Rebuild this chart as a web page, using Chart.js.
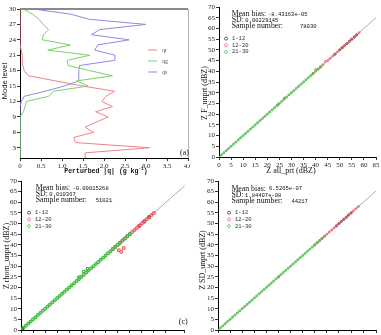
<!DOCTYPE html>
<html>
<head>
<meta charset="utf-8">
<script src="https://cdn.jsdelivr.net/npm/chart.js@4.4.1/dist/chart.umd.min.js"></script>
<style>
html, body { margin: 0; padding: 0; background: #fff; overflow: hidden; width: 381px; height: 335px; }
canvas { position: absolute; }
</style>
</head>
<body>
<canvas id="pa" width="190" height="175" style="left:0;top:0"></canvas>
<canvas id="pb" width="191" height="175" style="left:190px;top:0"></canvas>
<canvas id="pc" width="190" height="180" style="left:0;top:165px"></canvas>
<canvas id="pd" width="191" height="180" style="left:190px;top:165px"></canvas>
<script>
// ---- panel (a): perturbation profiles by model level ----
const levels = [1, 2, 3, 4, 5, 6, 7, 8, 9, 10, 11, 12, 13, 14, 15, 16, 17, 18, 19, 20, 21, 22, 23, 24, 25, 26, 27, 28, 29, 30];
const qr = [1.57, 1.55, 3.08, 1.32, 1.28, 1.75, 1.55, 1.82, 2.1, 1.8, 2.2, 1.95, 2.05, 2.25, 1.5, 0.85, 0.2, 0.1, 0.07, 0.06, 0.05, 0.03, 0, 0, 0, 0, 0, 0, 0, 0];
const qg = [0, 0, 0, 0, 0, 0, 0, 0, 0.02, 0.08, 0.12, 0.15, 0.68, 0.8, 1.62, 1.35, 2.2, 1.66, 1.15, 1.12, 1.66, 0.66, 1.2, 0.53, 0.56, 0.68, 0.55, 0.45, 0.3, 0.08];
const qs = [0, 0, 0, 0, 0, 0, 0, 0, 0, 0, 0, 0.03, 0.1, 0.6, 1.05, 1.4, 1.4, 1.4, 1.42, 2.25, 2.26, 1.78, 1.85, 2.6, 1.7, 1.9, 3.0, 1.65, 1.2, 0.32];
const profileNames = ['qr', 'qg', 'qs'];
const levelTicks = [3, 6, 9, 12, 15, 18, 21, 24, 27, 30];

// ---- panels (b)-(d): unperturbed vs all-perturbed reflectivity ----
const groupNames = ['1-12', '12-20', '21-30'];
const oneToOne = [[0, 0], [70, 70]];

const bLev1_12 = [[48, 48], [50, 50], [51, 51], [52, 52], [53, 53], [54, 54], [55, 55], [56, 56], [57, 57]];
const bLev12_20 = [[39, 39], [40, 40.8], [41, 41], [42, 42], [43, 43], [44, 44.5], [45, 45], [46, 46], [47, 47], [48, 48], [49, 49], [50, 50], [51, 51], [52, 52], [53, 53], [54, 54], [55, 55], [56, 56], [57, 57], [58, 58], [24.5, 24.5], [27, 27]];
const bLev21_30 = [[0, 0], [1, 1], [2, 2], [3, 3], [4, 4], [5, 5], [6, 6], [7, 7], [8, 8], [9, 9], [10, 10], [11, 11], [12, 12], [13, 13], [14, 14], [15, 15], [16, 16], [17, 17], [18, 18], [19, 19], [20, 20], [21, 21], [22, 22], [23, 23], [24, 24], [25, 25], [26, 26], [27, 27.5], [28, 28], [29, 29], [30, 30], [31, 31], [32, 32], [33, 33], [34, 34], [35, 35], [36, 36], [37, 37], [38, 38], [39, 39], [40, 40], [41, 41], [42, 42]];
const bStats = ['-8.43163e-05', '0.00229145', '78030'];

const cLev1_12 = [[0, 0], [0.5, 0.5], [49, 49], [51, 51], [53, 53]];
const cLev12_20 = [[38, 38], [39, 39], [40, 40], [41, 41], [42, 42], [43, 43], [44, 44], [45, 45], [46, 46], [47, 47], [48, 48], [49, 49], [50, 50], [51, 51], [52, 52], [53, 53], [54, 54], [55, 55], [40.5, 37.5], [42.5, 38.5], [41.5, 36.8]];
const cLev21_30 = [[0, 0], [1, 1], [2, 2], [3, 3], [4, 4], [5, 5], [6, 6], [7, 7], [8, 8], [9, 9], [10, 10], [11, 11], [12, 12], [13, 13], [14, 14], [15, 15], [16, 16], [17, 17], [18, 18], [19, 19], [20, 20], [21, 21], [22, 22], [23, 23], [24, 24], [25, 25], [26, 26], [27, 27], [28, 28], [29, 29], [30, 30], [31, 31], [32, 32], [33, 33], [34, 34], [35, 35], [36, 36], [37, 37], [38, 38], [39, 39], [40, 40], [41, 41], [42, 42], [43, 43], [44, 44], [45, 45], [26, 27.5], [27.5, 28.8], [24, 24.8]];
const cStats = ['-0.00015268', '0.010367', '51021'];

const dLev1_12 = [[49, 49], [50, 50], [51, 51], [52, 52], [53, 53], [54, 54], [55, 55]];
const dLev12_20 = [[40, 40], [41, 41], [42, 42], [43, 43], [44, 44], [45, 45], [46, 46], [47, 47], [48, 48], [49, 49], [50, 50], [51, 51], [52, 52], [53, 53], [54, 54], [55, 55], [56, 56], [57, 57], [58, 58], [25, 25]];
const dLev21_30 = [[0, 0], [1, 1], [2, 2], [3, 3], [4, 4], [5, 5], [6, 6], [7, 7], [8, 8], [9, 9], [10, 10], [11, 11], [12, 12], [13, 13], [14, 14], [15, 15], [16, 16], [17, 17], [18, 18], [19, 19], [20, 20], [21, 21], [22, 22], [23, 23], [24, 24], [25, 25], [26, 26], [27, 27], [28, 28], [29, 29], [30, 30], [31, 31], [32, 32], [33, 33], [34, 34], [35, 35], [36, 36], [37, 37], [38, 38], [39, 39], [40, 40], [41, 41], [42, 42], [43, 43], [44, 44]];
const dStats = ['6.5265e-07', '1.84407e-08', '44217'];

const SERIF = '"Liberation Serif", "DejaVu Serif", serif';
const MONO = '"Liberation Mono", "DejaVu Sans Mono", monospace';
const SANS = '"Liberation Sans", "DejaVu Sans", sans-serif';
const lineColors = ['#f0808a', '#7fd06a', '#8c8ce6'];
const groupColors = ['#222222', '#ec5a64', '#3cbf3c'];

function pts(list) {
    return list.map(p => ({ x: p[0], y: p[1] }));
}

// axis with fixed thickness so the plot boxes line up with the picture
function axis(min, max, step, size, isX, extra) {
    return Object.assign({
        type: 'linear',
        min: min,
        max: max,
        grid: { display: true, drawOnChartArea: false, drawTicks: true, tickLength: 3, color: '#000', lineWidth: 0.8 },
        border: { display: true, color: '#000', width: 1 },
        ticks: { stepSize: step, autoSkip: false, maxRotation: 0, padding: 1, color: '#222', font: { family: SERIF, size: 7 } },
        afterFit: s => {
            if (isX) s.height = size; else s.width = size;
            s.paddingLeft = 0; s.paddingRight = 0; s.paddingTop = 0; s.paddingBottom = 0;
        }
    }, extra || {});
}

function vText(c, txt, x, y, font) {
    c.save();
    c.translate(x, y);
    c.rotate(-Math.PI / 2);
    c.font = font;
    c.textAlign = 'center';
    c.textBaseline = 'middle';
    c.fillText(txt, 0, 0);
    c.restore();
}

// ---- panel (a) ----
const profileSets = [qr, qg, qs].map((vals, i) => ({
    label: profileNames[i],
    data: vals.map((v, k) => ({ x: v, y: levels[k] })),
    showLine: true,
    borderColor: lineColors[i],
    borderWidth: 1,
    pointRadius: 0,
    tension: 0
}));

new Chart(document.getElementById('pa'), {
    type: 'scatter',
    data: { datasets: profileSets },
    options: {
        responsive: false,
        animation: false,
        layout: { padding: { top: 9, right: 2, left: 0, bottom: 0 } },
        plugins: { legend: { display: false }, tooltip: { enabled: false } },
        scales: {
            x: axis(0, 4, 0.5, 17, true, {}),
            y: axis(1, 30, 3, 20, false, {
                afterBuildTicks: s => { s.ticks = levelTicks.map(v => ({ value: v })); }
            })
        }
    },
    plugins: [{
        id: 'notesA',
        afterDraw(chart) {
            const c = chart.ctx, a = chart.chartArea;
            c.save();
            c.strokeStyle = '#8a8a8a';
            c.lineWidth = 2;
            c.beginPath(); c.moveTo(a.left, a.top); c.lineTo(a.right, a.top); c.stroke();
            c.strokeStyle = '#b0b0b0';
            c.lineWidth = 1;
            c.beginPath(); c.moveTo(a.right + 0.5, a.top); c.lineTo(a.right + 0.5, a.bottom); c.stroke();
            // legend
            c.font = '6px ' + SERIF;
            c.textBaseline = 'middle';
            profileNames.forEach((n, i) => {
                const y = 50 + i * 11;
                c.strokeStyle = lineColors[i];
                c.beginPath(); c.moveTo(148, y); c.lineTo(157, y); c.stroke();
                c.fillStyle = '#555';
                c.fillText(n, 162, y);
            });
            c.fillStyle = '#111';
            c.font = '8px ' + SERIF;
            c.textAlign = 'right';
            c.fillText('(a)', a.right + 1, a.bottom - 5);
            // axis titles
            c.fillStyle = '#111';
            vText(c, 'Mode level', 5, 81, '7.5px ' + SANS);
            const main = 'Perturbed |q| (g kg', sup = '-1', tail = ')';
            c.textAlign = 'left';
            c.font = 'bold 6.5px ' + MONO;
            const w1 = c.measureText(main).width, w3 = c.measureText(tail).width;
            c.font = 'bold 4.5px ' + MONO;
            const w2 = c.measureText(sup).width;
            let x = 106 - (w1 + w2 + w3) / 2;
            c.font = 'bold 6.5px ' + MONO;
            c.fillText(main, x, 171);
            c.font = 'bold 4.5px ' + MONO;
            c.fillText(sup, x + w1, 169);
            c.font = 'bold 6.5px ' + MONO;
            c.fillText(tail, x + w1 + w2, 171);
            c.restore();
        }
    }]
});

// ---- panels (b)-(d) ----
function scatterPanel(id, groups, stats, cfg) {
    const sets = [{
        data: pts(oneToOne), showLine: true, borderColor: '#9a9a9a', borderWidth: 0.8,
        pointRadius: 0, order: 10
    }];
    groups.forEach((g, i) => {
        sets.push({
            label: groupNames[i],
            data: pts(g),
            borderColor: groupColors[i],
            backgroundColor: 'rgba(0,0,0,0)',
            pointStyle: 'circle',
            pointRadius: cfg.r,
            borderWidth: cfg.bw,
            order: 3 - i
        });
    });
    new Chart(document.getElementById(id), {
        type: 'scatter',
        data: { datasets: sets },
        options: {
            responsive: false,
            animation: false,
            layout: { padding: { top: cfg.top, right: 0, left: 0, bottom: 0 } },
            plugins: { legend: { display: false }, tooltip: { enabled: false } },
            scales: {
                x: axis(0, cfg.xmax, 5, cfg.xh, true, {}),
                y: axis(0, 70, 5, cfg.yw, false, {})
            }
        },
        plugins: [{
            id: 'notes' + id,
            afterDraw(chart) {
                const c = chart.ctx, a = chart.chartArea;
                const L = a.left, T = a.top, o = cfg.o;
                c.save();
                c.fillStyle = '#111';
                c.textBaseline = 'middle';
                c.textAlign = 'left';
                c.font = '7.8px ' + SERIF;
                c.fillText('Mean bias:', L + o.lx, T + o.y);
                c.fillText('SD:', L + o.lx, T + o.y + 6);
                const sdW = c.measureText('SD:').width;
                c.fillText('Sample number:', L + o.lx, T + o.y + 12);
                c.font = '5.5px ' + MONO;
                c.fillText(stats[0], L + o.bx, T + o.y);
                c.fillText(stats[1], L + o.lx + sdW + 1.5, T + o.y + 6.5);
                c.fillText(stats[2], L + o.nx, T + o.y + 12.5);
                // group legend
                groupNames.forEach((n, i) => {
                    const y = T + o.gy + i * 6.7;
                    c.strokeStyle = groupColors[i];
                    c.lineWidth = 0.7;
                    c.beginPath(); c.arc(L + o.gx, y, 1.5, 0, Math.PI * 2); c.stroke();
                    c.fillStyle = '#333';
                    c.fillText(n, L + o.gx + 6, y);
                });
                c.fillStyle = '#111';
                if (cfg.tag) {
                    c.font = '8px ' + SERIF;
                    c.textAlign = 'left';
                    c.fillText(cfg.tag, a.right - 6, a.bottom - 8);
                }
                vText(c, cfg.ytitle, cfg.ytx, cfg.yty, '8px ' + SERIF);
                if (cfg.xtitle) {
                    c.font = '8px ' + SERIF;
                    c.textAlign = 'center';
                    c.fillText(cfg.xtitle, cfg.xtx, cfg.xty);
                }
                c.restore();
            }
        }]
    });
}

scatterPanel('pb', [bLev1_12, bLev12_20, bLev21_30], bStats, {
    r: 1, bw: 1, top: 7, xmax: 65, xh: 18, yw: 29,
    o: { lx: 12.7, y: 7.3, bx: 49, nx: 81, gx: 7, gy: 31.6 },
    ytitle: 'Z F_unprt (dBZ)', ytx: 15, yty: 93,
    xtitle: 'Z all_prt (dBZ)', xtx: 101, xty: 171
});
scatterPanel('pc', [cLev1_12, cLev12_20, cLev21_30], cStats, {
    r: 1.4, bw: 1.2, top: 16, xmax: 67.8, xh: 15, yw: 21,
    o: { lx: 14.7, y: 7.3, bx: 51.4, nx: 74.7, gx: 8, gy: 31.7 },
    ytitle: 'Z rhom_unprt (dBZ)', ytx: 7, yty: 91,
    tag: '(c)'
});
scatterPanel('pd', [dLev1_12, dLev12_20, dLev21_30], dStats, {
    r: 1, bw: 1, top: 16, xmax: 65.3, xh: 15, yw: 28,
    o: { lx: 13.4, y: 8, bx: 51, nx: 73.4, gx: 11, gy: 31.7 },
    ytitle: 'Z SD_unprt (dBZ)', ytx: 13, yty: 95
});
</script>
</body>
</html>
